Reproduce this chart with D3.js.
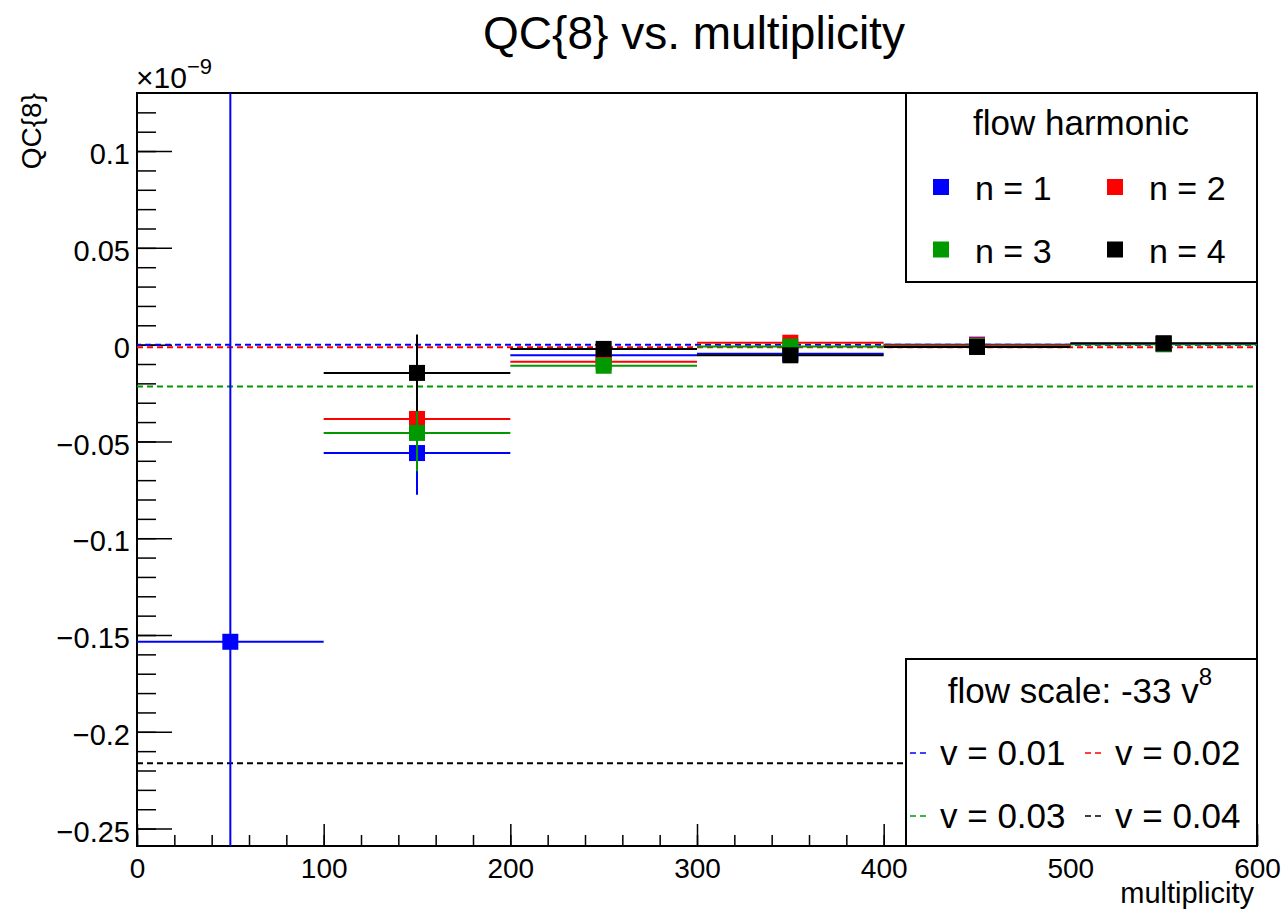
<!DOCTYPE html>
<html lang="en">
<head>
  <meta charset="UTF-8" />
  <title>QC{8} vs. multiplicity</title>
  <script src="https://d3js.org/d3.v7.min.js"></script>
  <style>
    body { margin: 0; background: #fff; font-family: "Liberation Sans", Arial, sans-serif; }
    svg text { font-family: "Liberation Sans", Arial, sans-serif; fill: #000; }
    .axis path, .axis line { stroke: #000; }
  </style>
</head>
<body>
<svg id="chart" width="1281" height="913"></svg>

<script>
// bins of multiplicity (centre, half width)
const binCentres = [50, 150, 250, 350, 450, 550];
const binHalfWidth = 50;

// QC{8} values in units of 1e-9, per harmonic (null = not shown)
const qcN1 = [-0.1535, -0.0560, -0.0055, -0.0047, 0.0000, 0.0005];
const qcN2 = [null, -0.0384, -0.0089, 0.0010, -0.0003, 0.0003];
const qcN3 = [null, -0.0456, -0.0109, -0.0010, -0.0008, 0.0002];
const qcN4 = [null, -0.0146, -0.0022, -0.0055, -0.0012, 0.0007];

const errN1 = [0.6000, 0.0215, 0.0020, 0.0020, 0.0020, 0.0020];
const errN2 = [null, 0.0080, 0.0020, 0.0020, 0.0020, 0.0020];
const errN3 = [null, 0.0198, 0.0020, 0.0020, 0.0020, 0.0020];
const errN4 = [null, 0.0198, 0.0020, 0.0020, 0.0020, 0.0020];

// flow scale reference lines: -33 v^8, in 1e-9
const flowV = ["0.01", "0.02", "0.03", "0.04"];
const flowScale = [-0.0000033, -0.000845, -0.02165, -0.2163];

const harmonicLabels = ["n = 1", "n = 2", "n = 3", "n = 4"];
const colors = ["#0000ff", "#ff0000", "#009a00", "#000000"];

const xTicks = [0, 100, 200, 300, 400, 500, 600];
const yTicks = [-0.25, -0.2, -0.15, -0.1, -0.05, 0, 0.05, 0.1];

const svg = d3.select("#chart");
const frame = { left: 137, right: 1257, top: 93, bottom: 846 };

const x = d3.scaleLinear().domain([0, 600]).range([frame.left, frame.right]);
const y = d3.scaleLinear().domain([-0.259, 0.130]).range([frame.bottom, frame.top]);

svg.append("defs").append("clipPath").attr("id", "clip")
  .append("rect")
  .attr("x", frame.left).attr("y", frame.top)
  .attr("width", frame.right - frame.left).attr("height", frame.bottom - frame.top);

// title
svg.append("text")
  .attr("x", 694).attr("y", 49)
  .attr("text-anchor", "middle")
  .style("font-size", "46px")
  .text("QC{8} vs. multiplicity");

// minor ticks
const minorY = d3.range(-25, 13).map(d => d / 100);
svg.append("g").attr("class", "axis")
  .attr("transform", `translate(${frame.left},0)`)
  .call(d3.axisLeft(y).tickValues(minorY).tickSize(-19).tickFormat(""))
  .call(g => g.select(".domain").remove())
  .selectAll("line").attr("stroke-width", 1.5);

svg.append("g").attr("class", "axis")
  .attr("transform", `translate(0,${frame.bottom})`)
  .call(d3.axisBottom(x).tickValues(d3.range(0, 601, 20)).tickSize(-11).tickFormat(""))
  .call(g => g.select(".domain").remove())
  .selectAll("line").attr("stroke-width", 1.5);

// major axes
const yAxis = svg.append("g").attr("class", "axis")
  .attr("transform", `translate(${frame.left},0)`)
  .call(d3.axisLeft(y).tickValues(yTicks).tickSize(-35).tickPadding(7).tickFormat(d3.format("~g")));
yAxis.select(".domain").remove();
yAxis.selectAll("line").attr("stroke-width", 1.5);
yAxis.selectAll("text").style("font-size", "29px").attr("dy", "0.44em");

const xAxis = svg.append("g").attr("class", "axis")
  .attr("transform", `translate(0,${frame.bottom})`)
  .call(d3.axisBottom(x).tickValues(xTicks).tickSize(-22).tickPadding(12).tickFormat(d3.format("d")));
xAxis.select(".domain").remove();
xAxis.selectAll("line").attr("stroke-width", 1.5);
xAxis.selectAll("text").style("font-size", "28px");

// frame
svg.append("rect")
  .attr("x", frame.left).attr("y", frame.top)
  .attr("width", frame.right - frame.left).attr("height", frame.bottom - frame.top)
  .attr("fill", "none").attr("stroke", "#000").attr("stroke-width", 2);

// axis titles and exponent
svg.append("text")
  .attr("transform", `translate(41,${frame.top}) rotate(-90)`)
  .attr("text-anchor", "end")
  .style("font-size", "28px")
  .text("QC{8}");

const expo = svg.append("text").attr("x", frame.left - 1).attr("y", 88).style("font-size", "30px");
expo.append("tspan").text("×10");
expo.append("tspan").attr("dy", -14).style("font-size", "22px").text("−9");

svg.append("text")
  .attr("x", 1254).attr("y", 903)
  .attr("text-anchor", "end")
  .style("font-size", "29px")
  .text("multiplicity");

// reference lines
const plot = svg.append("g").attr("clip-path", "url(#clip)");
const refOrder = [1, 0, 2, 3];
refOrder.forEach(i => {
  plot.append("line")
    .attr("x1", x(0)).attr("x2", x(600))
    .attr("y1", y(flowScale[i]) + (i === 1 ? 1 : 0)).attr("y2", y(flowScale[i]) + (i === 1 ? 1 : 0))
    .attr("stroke", colors[i]).attr("stroke-width", 2)
    .attr("stroke-dasharray", "6,4")
    .attr("stroke-dashoffset", i === 0 ? 2 : 0);
});

// data series
const series = [
  { vals: qcN1, errs: errN1 },
  { vals: qcN2, errs: errN2 },
  { vals: qcN3, errs: errN3 },
  { vals: qcN4, errs: errN4 }
];

series.forEach((s, si) => {
  const pts = binCentres.map((c, i) => ({ c, v: s.vals[i], e: s.errs[i] })).filter(d => d.v !== null);
  const g = plot.append("g");
  g.selectAll(".ex").data(pts).enter().append("line")
    .attr("x1", d => x(d.c - binHalfWidth)).attr("x2", d => x(d.c + binHalfWidth))
    .attr("y1", d => y(d.v)).attr("y2", d => y(d.v))
    .attr("stroke", colors[si]).attr("stroke-width", 2);
  g.selectAll(".ey").data(pts).enter().append("line")
    .attr("x1", d => x(d.c)).attr("x2", d => x(d.c))
    .attr("y1", d => y(d.v - d.e)).attr("y2", d => y(d.v + d.e))
    .attr("stroke", colors[si]).attr("stroke-width", 2);
  g.selectAll("rect").data(pts).enter().append("rect")
    .attr("x", d => x(d.c) - 8).attr("y", d => y(d.v) - 8)
    .attr("width", 16).attr("height", 16)
    .attr("fill", colors[si]);
});

// legend: flow harmonic
const leg1 = svg.append("g");
leg1.append("rect")
  .attr("x", 906).attr("y", 93).attr("width", 351).attr("height", 189)
  .attr("fill", "#fff").attr("stroke", "#000").attr("stroke-width", 2);
leg1.append("text").attr("x", 1081).attr("y", 135)
  .attr("text-anchor", "middle").style("font-size", "35px").text("flow harmonic");
harmonicLabels.forEach((lab, i) => {
  const cx = i % 2 === 0 ? 941 : 1115;
  const cy = i < 2 ? 187 : 249.5;
  leg1.append("rect").attr("x", cx - 8).attr("y", cy - 8).attr("width", 16).attr("height", 16)
    .attr("fill", colors[i]);
  leg1.append("text").attr("x", cx + 34).attr("y", cy + 13)
    .style("font-size", "34px").text(lab);
});

// legend: flow scale
const leg2 = svg.append("g");
leg2.append("rect")
  .attr("x", 906).attr("y", 659).attr("width", 351).attr("height", 187)
  .attr("fill", "#fff").attr("stroke", "#000").attr("stroke-width", 2);
const hdr = leg2.append("text").attr("x", 1080).attr("y", 703)
  .attr("text-anchor", "middle").style("font-size", "35px");
hdr.append("tspan").text("flow scale: -33 v");
hdr.append("tspan").attr("dy", -18).style("font-size", "24px").text("8");
flowV.forEach((v, i) => {
  const lx = i % 2 === 0 ? 910 : 1085;
  const ly = i < 2 ? 753 : 816;
  leg2.append("line").attr("x1", lx).attr("x2", lx + 18).attr("y1", ly).attr("y2", ly)
    .attr("stroke", colors[i]).attr("stroke-width", 1.5).attr("stroke-dasharray", "6,4");
  leg2.append("text").attr("x", lx + 30).attr("y", ly + 12)
    .style("font-size", "35px").text("v = " + v);
});
</script>
</body>
</html>
